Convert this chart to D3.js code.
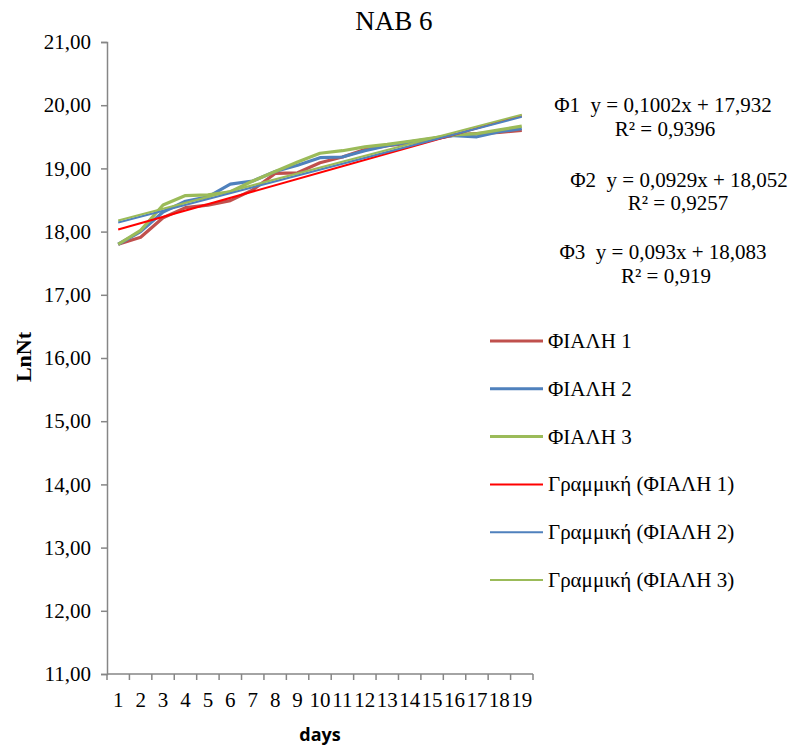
<!DOCTYPE html>
<html>
<head>
<meta charset="utf-8">
<script src="https://cdn.jsdelivr.net/npm/d3@7"></script>
<style>
  body { margin: 0; background: #fff; }
  svg { display: block; }
</style>
</head>
<body>
<svg id="chart" width="792" height="746"></svg>
<script>
// Days of culture (category axis)
const days = [1,2,3,4,5,6,7,8,9,10,11,12,13,14,15,16,17,18,19];

// ln(Nt) per flask
const flask1 = [17.80,17.91,18.22,18.38,18.42,18.49,18.66,18.92,18.93,19.09,19.18,19.30,19.36,19.40,19.46,19.53,19.55,19.57,19.60];
const flask2 = [17.80,18.00,18.31,18.48,18.55,18.75,18.80,18.95,19.05,19.17,19.18,19.28,19.36,19.42,19.47,19.52,19.50,19.58,19.63];
const flask3 = [17.80,18.02,18.42,18.57,18.58,18.63,18.80,18.95,19.10,19.24,19.28,19.34,19.38,19.43,19.48,19.53,19.55,19.61,19.67];

// Linear fits (slope, intercept, R²)
const fitSlopes = [0.1002, 0.0929, 0.093];
const fitIntercepts = [17.932, 18.052, 18.083];
const fitR2 = ["0,9396", "0,9257", "0,919"];
const fitLabels = ["Φ1", "Φ2", "Φ3"];

const seriesNames = ["ΦΙΑΛΗ 1", "ΦΙΑΛΗ 2", "ΦΙΑΛΗ 3"];
const trendNames = ["Γραμμική (ΦΙΑΛΗ 1)", "Γραμμική (ΦΙΑΛΗ 2)", "Γραμμική (ΦΙΑΛΗ 3)"];
const yTicks = [11,12,13,14,15,16,17,18,19,20,21];

const dataColors = ["#C0504D", "#4F81BD", "#9BBB59"];
const trendColors = ["#FF0000", "#4F81BD", "#9BBB59"];

const svg = d3.select("#chart");
const serif = "'Liberation Serif', 'Times New Roman', serif";
const axisColor = "#868686";
const fs = 21;

const x = d3.scaleBand().domain(days).range([107, 533]);
const y = d3.scaleLinear().domain([11, 21]).range([674, 42]);
const cx = d => x(d) + x.bandwidth() / 2;

// Title
svg.append("text").attr("x", 394).attr("y", 30).attr("text-anchor", "middle")
  .attr("font-family", serif).attr("font-size", 27).text("NAB 6");

// Y axis
const yAxis = d3.axisLeft(y).tickValues(yTicks).tickSize(6).tickPadding(10)
  .tickFormat(d => d3.format(".2f")(d).replace(".", ","));
const gy = svg.append("g").attr("transform", "translate(107,0)").call(yAxis);
gy.select(".domain").attr("stroke", axisColor).attr("stroke-width", 1.5);
gy.selectAll(".tick line").attr("stroke", axisColor).attr("stroke-width", 1.5);
gy.selectAll(".tick text").attr("font-family", serif).attr("font-size", fs).attr("fill", "#000");

// X axis: ticks between categories
const gx = svg.append("g").attr("transform", "translate(0,674)");
gx.append("line").attr("x1", 107).attr("x2", 533).attr("stroke", axisColor).attr("stroke-width", 1.5);
const bounds = days.map(d => x(d)).concat([x(days[days.length - 1]) + x.bandwidth()]);
gx.selectAll("line.tk").data(bounds).enter().append("line").attr("class", "tk")
  .attr("x1", d => d).attr("x2", d => d).attr("y1", 0).attr("y2", 6)
  .attr("stroke", axisColor).attr("stroke-width", 1.5);
gx.selectAll("text").data(days).enter().append("text")
  .attr("x", d => cx(d)).attr("y", 33).attr("text-anchor", "middle")
  .attr("font-family", serif).attr("font-size", fs).text(d => d);

// Axis titles
svg.append("text").attr("x", 320).attr("y", 741).attr("text-anchor", "middle")
  .attr("font-family", "'Open Sans', sans-serif").attr("font-weight", "bold")
  .attr("font-size", 18).text("days");
svg.append("text").attr("transform", "translate(31,357) rotate(-90)").attr("text-anchor", "middle")
  .attr("font-family", serif).attr("font-weight", "bold").attr("font-size", 22).text("LnNt");

// Data lines
const line = d3.line().x((d, i) => cx(days[i])).y(d => y(d));
[flask1, flask2, flask3].forEach((s, k) => {
  svg.append("path").datum(s).attr("d", line).attr("fill", "none")
    .attr("stroke", dataColors[k]).attr("stroke-width", 3.2).attr("stroke-linejoin", "round");
});

// Trend lines from the fitted equations
const first = days[0], last = days[days.length - 1];
fitSlopes.forEach((m, k) => {
  const b = fitIntercepts[k];
  svg.append("line")
    .attr("x1", cx(first)).attr("y1", y(m * first + b))
    .attr("x2", cx(last)).attr("y2", y(m * last + b))
    .attr("stroke", trendColors[k]).attr("stroke-width", 2);
});

// Equation labels
const eqPos = [[663, 112, 665, 136], [679, 187, 678, 210], [663, 259, 666, 283]];
fitSlopes.forEach((m, k) => {
  const g = svg.append("g").attr("font-family", serif).attr("font-size", fs).attr("text-anchor", "middle");
  const slope = String(m).replace(".", ",");
  const inter = String(fitIntercepts[k]).replace(".", ",");
  g.append("text").attr("x", eqPos[k][0]).attr("y", eqPos[k][1])
    .attr("xml:space", "preserve").text(`${fitLabels[k]}  y = ${slope}x + ${inter}`);
  g.append("text").attr("x", eqPos[k][2]).attr("y", eqPos[k][3])
    .text(`R² = ${fitR2[k]}`);
});

// Legend
const legendItems = seriesNames.map((n, k) => ({ name: n, color: dataColors[k], w: 3 }))
  .concat(trendNames.map((n, k) => ({ name: n, color: trendColors[k], w: 2 })));
const lg = svg.append("g");
legendItems.forEach((it, i) => {
  const yy = 341 + i * 47.8;
  lg.append("line").attr("x1", 490).attr("x2", 543).attr("y1", yy).attr("y2", yy)
    .attr("stroke", it.color).attr("stroke-width", it.w);
  lg.append("text").attr("x", 548).attr("y", yy + 7).attr("font-family", serif)
    .attr("font-size", fs).text(it.name);
});
</script>
</body>
</html>
